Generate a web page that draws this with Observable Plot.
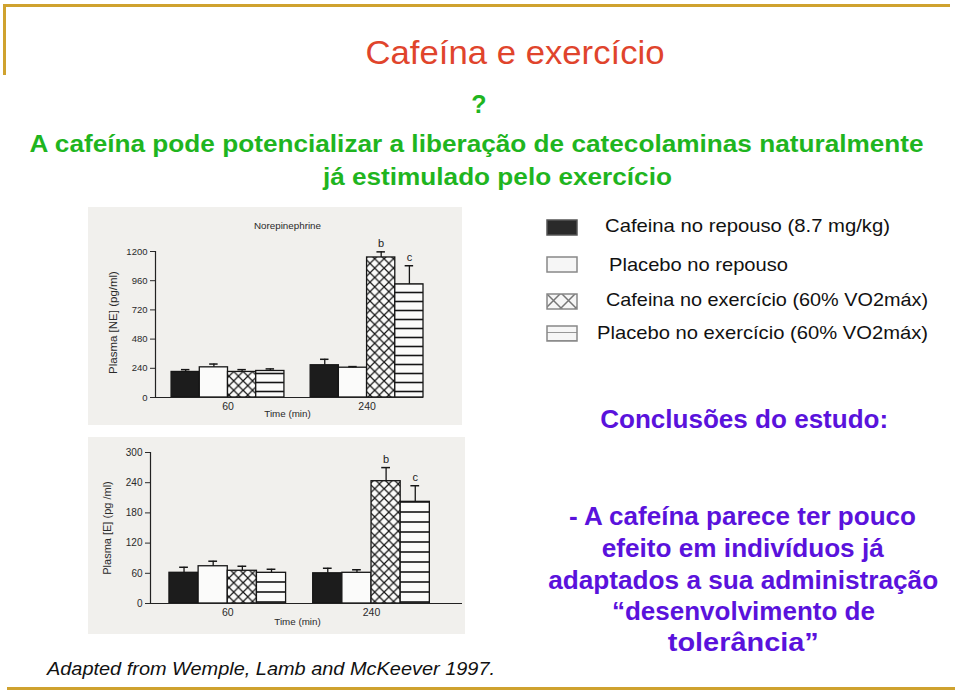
<!DOCTYPE html>
<html><head><meta charset="utf-8">
<script src="https://cdn.jsdelivr.net/npm/d3@7"></script>
<script src="https://cdn.jsdelivr.net/npm/@observablehq/plot@0.6"></script>
<style>
html,body{margin:0;padding:0}
body{width:960px;height:691px;position:relative;background:#fff;font-family:"Liberation Sans",Arial,sans-serif;overflow:hidden}
.t{position:absolute;white-space:nowrap;line-height:1}
.gold{position:absolute;background:#cfa22e}
.chart{position:absolute}
</style></head><body>
<svg width="0" height="0" style="position:absolute">
<defs>
<pattern id="pat-cross" patternUnits="userSpaceOnUse" width="9.4" height="9.4"><rect width="9.4" height="9.4" fill="#fbfbfa"/><path d="M0,0L9.4,9.4M9.4,0L0,9.4" stroke="#151515" stroke-width="1.2"/></pattern>
<pattern id="pat-stripe" patternUnits="userSpaceOnUse" width="10" height="9"><rect width="10" height="9" fill="#fbfbfa"/><path d="M0,4.5H10" stroke="#151515" stroke-width="1.6"/></pattern>
<pattern id="pat-stripe2" patternUnits="userSpaceOnUse" width="10" height="10"><rect width="10" height="10" fill="#fbfbfa"/><path d="M0,5H10" stroke="#151515" stroke-width="1.6"/></pattern>
<pattern id="leg-cross" patternUnits="userSpaceOnUse" width="15" height="15"><rect width="15" height="15" fill="#f6f6f6"/><path d="M0,0L15,15M15,0L0,15" stroke="#777" stroke-width="1.5"/></pattern>
<pattern id="leg-stripe" patternUnits="userSpaceOnUse" width="20" height="8"><rect width="20" height="8" fill="#f6f6f6"/><path d="M0,8H20" stroke="#777" stroke-width="1.5"/></pattern>
</defs></svg>

<div class="gold" style="left:3px;top:4px;width:947px;height:3px"></div>
<div class="gold" style="left:3px;top:4px;width:3px;height:71px"></div>
<div class="gold" style="left:7px;top:687px;width:948px;height:3px"></div>

<div id="slide"></div>
<div id="chartNE" class="chart" style="left:88px;top:207px"></div>
<div id="chartE" class="chart" style="left:88px;top:437px"></div>
<div id="legend"></div>

<script>
// ---- data ----
const conditions = [
  "Cafeina no repouso (8.7 mg/kg)",
  "Placebo no repouso",
  "Cafeina no exercício (60% VO2máx)",
  "Placebo no exercício (60% VO2máx)"
];
const times = ["60", "240"];
// Norepinephrine (pg/ml): mean and top of error bar
const neMean60 = [210, 248, 210, 218];
const neTop60 = [229, 275, 229, 235];
const neMean240 = [265, 245, 1151, 930];
const neTop240 = [314, 254, 1197, 1083];
// Epinephrine (pg/ml)
const eMean60 = [61, 74, 65, 61];
const eTop60 = [72, 84, 74, 68];
const eMean240 = [60, 61, 243, 202];
const eTop240 = [70, 67, 270, 234];
const sigLetters240 = ["", "", "b", "c"];
const neTicks = [0, 240, 480, 720, 960, 1200];
const eTicks = [0, 60, 120, 180, 240, 300];

const slideTitle = "Cafeína e exercício";
const question = "?";
const hypothesis = ["A cafeína pode potencializar a liberação de catecolaminas naturalmente", "já estimulado pelo exercício"];
const conclusionsHead = "Conclusões do estudo:";
const conclusions = ["- A cafeína parece ter pouco", "efeito em indivíduos já", "adaptados a sua administração", "“desenvolvimento de", "tolerância”"];
const source = "Adapted from Wemple, Lamb and McKeever 1997.";

// ---- slide text ----
const slide = d3.select("#slide");
const ctx = document.createElement("canvas").getContext("2d");
const FAM = '"Liberation Sans", Arial, sans-serif';
function txt(s, {x, base, fs, w, weight = "normal", style = "normal", color = "#000", center = false}) {
  ctx.font = `${style} ${weight} ${fs}px ${FAM}`;
  const mw = ctx.measureText(s).width;
  const sx = w ? w / mw : 1;
  slide.append("div").attr("class", "t")
    .style("left", (center ? x - mw / 2 : x) + "px").style("top", (base - 0.8465 * fs) + "px")
    .style("font-size", fs + "px").style("font-weight", weight).style("font-style", style)
    .style("transform-origin", center ? "50% 50%" : "0 50%")
    .style("transform", `scaleX(${sx})`)
    .style("color", color).text(s);
}
txt(slideTitle, {x: 515, base: 65, fs: 32.5, w: 299, color: "#e0442c", center: true});
txt(question, {x: 479, base: 113, fs: 25, weight: "bold", color: "#1fb51f", center: true});
txt(hypothesis[0], {x: 477.5, base: 152, fs: 23, w: 895, weight: "bold", color: "#1fb51f", center: true});
txt(hypothesis[1], {x: 497.5, base: 185, fs: 23, w: 349, weight: "bold", color: "#1fb51f", center: true});
txt(conclusionsHead, {x: 744, base: 428, fs: 25, w: 288, weight: "bold", color: "#5a12dc", center: true});
const concBase = [525, 557, 589, 620, 651];
const concW = [349, 282, 390, 263, 151];
conclusions.forEach((s, i) => txt(s, {x: 743, base: concBase[i], fs: 25, w: concW[i], weight: "bold", color: "#5a12dc", center: true}));
txt(source, {x: 47, base: 675, fs: 18, w: 448, style: "italic", color: "#111"});

// ---- legend ----
const legFill = ["#2a2a2a", "#f6f6f6", "url(#leg-cross)", "url(#leg-stripe)"];
const legSwatchY = [219, 256, 293, 325];
const legTextX = [605, 609, 606, 597];
const legBase = [233, 271.7, 306.7, 340];
const legW = [285, 179, 322, 331];
conditions.forEach((c, i) => {
  const s = d3.select("#legend").append("svg").style("position", "absolute")
    .style("left", "546px").style("top", legSwatchY[i] + "px").attr("width", 34).attr("height", 18);
  s.append("rect").attr("x", 1).attr("y", 1).attr("width", 30).attr("height", 15)
    .attr("fill", legFill[i]).attr("stroke", i === 0 ? "#555" : "#888").attr("stroke-width", 1.5);
  txt(c, {x: legTextX[i], base: legBase[i], fs: 18.5, w: legW[i], color: "#111"});
});

// ---- charts ----
function rowsFor(m60, t60, m240, t240) {
  return times.flatMap((t, gi) => conditions.map((c, ci) => ({
    time: t, gi, ci, cond: c,
    mean: gi ? m240[ci] : m60[ci],
    top: gi ? t240[ci] : t60[ci],
    letter: gi ? sigLetters240[ci] : ""
  })));
}

function drawChart(sel, o) {
  const step = 4.93;
  const x1 = d => o.off + d.gi * step + d.ci;
  const xc = d => x1(d) + 0.5;
  const yMax = o.ticks[o.ticks.length - 1];
  const ink = "#161616";
  const p = Plot.plot({
    width: o.width, height: o.height,
    marginTop: o.mt, marginRight: o.mr, marginBottom: o.mb, marginLeft: o.ml,
    style: {background: "#f1f0ed", fontFamily: "Liberation Sans, Arial, sans-serif", fontSize: o.tickFs + "px", color: "#2a2a2a"},
    x: {domain: [0, o.xMax], axis: null},
    y: {domain: [0, yMax], ticks: o.ticks, tickFormat: d3.format("d"), tickSize: 5, tickPadding: 3, label: null},
    color: {type: "identity"},
    marks: [
      Plot.rect(o.rows, {x1, x2: d => x1(d) + 1, y1: 0, y2: "mean", fill: d => o.fills[d.ci], stroke: ink, strokeWidth: 1.3}),
      Plot.ruleX(o.rows, {x: xc, y1: "mean", y2: "top", stroke: ink, strokeWidth: 1.3}),
      Plot.ruleY(o.rows, {y: "top", x1: d => xc(d) - 0.15, x2: d => xc(d) + 0.15, stroke: ink, strokeWidth: 1.5}),
      Plot.text(o.rows.filter(d => d.letter), {x: xc, y: "top", text: "letter", dy: -8, fontSize: 11, fill: "#222"}),
      Plot.ruleY([0], {stroke: "#222", strokeWidth: 1.2}),
      Plot.ruleX([0], {y1: 0, y2: yMax, stroke: "#222", strokeWidth: 1.2}),
      Plot.text(times, {x: (t, i) => o.off + i * step + 2, y: 0, dy: o.tickDy, text: d => d, fontSize: 10.5, fill: "#2a2a2a"}),
      Plot.text(["Time (min)"], {frameAnchor: "bottom", dy: o.timeDy, dx: o.timeDx, fontSize: 9.8, fill: "#2a2a2a"}),
      Plot.text([o.yLabel], {frameAnchor: "left", textAnchor: "middle", rotate: -90, dx: -o.labelOffset, dy: o.labelDy, fontSize: o.labelFs, fill: "#2a2a2a"}),
      o.title ? Plot.text([o.title], {frameAnchor: "top", dy: -29, dx: -2, fontSize: 9.8, fill: "#2a2a2a"}) : null
    ]
  });
  sel.append(p);
}

drawChart(document.getElementById("chartNE"), {
  rows: rowsFor(neMean60, neTop60, neMean240, neTop240),
  ticks: neTicks, yLabel: "Plasma [NE] (pg/ml)", title: "Norepinephrine",
  width: 374, height: 218, mt: 44, mr: 39, mb: 28, ml: 67,
  off: 0.57, xMax: 9.5, labelOffset: 42, labelDy: -2, labelFs: 11.5, tickFs: 9.5, tickDy: 9, timeDy: 19, timeDx: -2,
  fills: ["#1c1c1c", "#fbfbfa", "url(#pat-cross)", "url(#pat-stripe)"]
});
drawChart(document.getElementById("chartE"), {
  rows: rowsFor(eMean60, eTop60, eMean240, eTop240),
  ticks: eTicks, yLabel: "Plasma [E] (pg /ml)", title: null,
  width: 377, height: 197, mt: 15, mr: 3, mb: 31, ml: 62,
  off: 0.65, xMax: 10.7, labelOffset: 43, labelDy: 0, labelFs: 11, tickFs: 10, tickDy: 9, timeDy: 21, timeDx: -9,
  fills: ["#1c1c1c", "#fbfbfa", "url(#pat-cross)", "url(#pat-stripe2)"]
});
</script>
</body></html>
